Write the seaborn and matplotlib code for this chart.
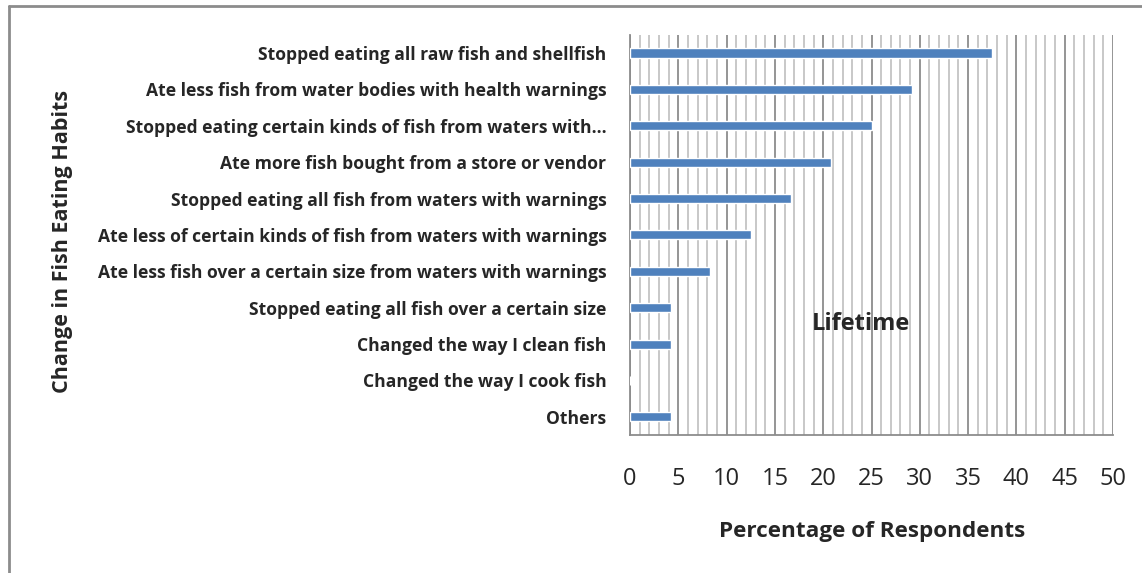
import matplotlib
matplotlib.use("Agg")
import matplotlib.pyplot as plt
import seaborn as sns
import pandas as pd
from matplotlib.lines import Line2D

# datos (porcentaje de encuestados)
habitos = [
    "Stopped eating all raw fish and shellfish",
    "Ate less fish from water bodies with health warnings",
    "Stopped eating certain kinds of fish from waters with\u2026",
    "Ate more fish bought from a store or vendor",
    "Stopped eating all fish from waters with warnings",
    "Ate less of certain kinds of fish from waters with warnings",
    "Ate less fish over a certain size from waters with warnings",
    "Stopped eating all fish over a certain size",
    "Changed the way I clean fish",
    "Changed the way I cook fish",
    "Others",
]
porcentaje = [37.5, 29.2, 25.0, 20.8, 16.7, 12.5, 8.3, 4.2, 4.2, 0.0, 4.2]
ticks_x = [0, 5, 10, 15, 20, 25, 30, 35, 40, 45, 50]

datos = pd.DataFrame({"habito": habitos, "porcentaje": porcentaje})

sns.set_style("white")
plt.rcParams["font.family"] = ["Open Sans", "DejaVu Sans"]

fig = plt.figure(figsize=(11.42, 5.73), dpi=100)
ax = fig.add_axes([0.5517, 0.2408, 0.4229, 0.6984])

# grilla: menor cada 1, mayor cada 5
for v in range(0, 51):
    if v % 5 == 0:
        ax.axvline(v, color="#8c8c8c", lw=1.3, zorder=0)
    else:
        ax.axvline(v, color="#c4c4c4", lw=1.3, zorder=0)

sns.barplot(data=datos, x="porcentaje", y="habito", orient="h",
            color="#4F81BD", saturation=1, width=0.25, ax=ax, zorder=3)

ax.set_xlim(0, 50)
ax.set_ylim(len(habitos) - 0.5, -0.5)
ax.set_xticks(ticks_x)
ax.set_xticklabels([str(t) for t in ticks_x], fontsize=17)
ax.tick_params(axis="x", length=7, width=1.3, color="#8c8c8c", pad=16, direction="out")
ax.tick_params(axis="y", length=0, pad=17)
for lab in ax.get_yticklabels():
    lab.set_fontweight("bold")
    lab.set_fontsize(12.6)

for s in ["top", "right"]:
    ax.spines[s].set_visible(False)
ax.spines["left"].set_color("#8c8c8c")
ax.spines["bottom"].set_color("#8c8c8c")
ax.spines["left"].set_linewidth(1.3)
ax.spines["bottom"].set_linewidth(1.3)

ax.set_xlabel("")
ax.set_ylabel("")
fig.text(0.7636, 0.073, "Percentage of Respondents", fontsize=16.2,
         fontweight="bold", ha="center", va="center")
fig.text(0.0545, 0.579, "Change in Fish Eating Habits", fontsize=15.5,
         fontweight="bold", ha="center", va="center", rotation=90)
ax.text(23.9, 7.45, "Lifetime", fontsize=17, fontweight="bold",
        ha="center", va="center", zorder=4)

# marco exterior del grafico (solo izquierda y arriba visibles)
fig.add_artist(Line2D([0.0075, 0.0075], [0, 0.989], color="#8c8c8c", lw=2))
fig.add_artist(Line2D([0.0075, 1.0], [0.989, 0.989], color="#8c8c8c", lw=2))

fig.savefig("out.png", dpi=100)
